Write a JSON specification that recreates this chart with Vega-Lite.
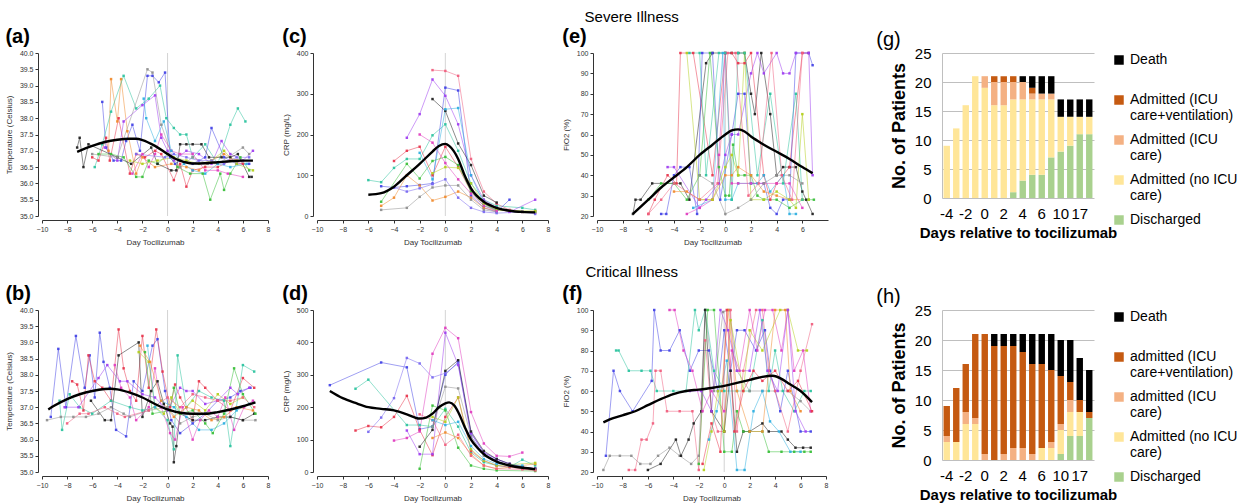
{
"$schema": "https://vega.github.io/schema/vega-lite/v6.json",
"padding": {"left": 5, "top": 10, "right": 2, "bottom": 2},
"config": {
  "font": "Liberation Sans",
  "view": {"stroke": null},
  "axis": {"grid": false, "labelFontSize": 7, "titleFontSize": 8, "titleFontWeight": "normal", "labelColor": "#333", "titleColor": "#333", "domainColor": "#333", "tickColor": "#333", "tickSize": 3, "offset": 4, "labelPadding": 2, "titlePadding": 6, "labelOverlap": false, "labelFlush": false},
  "concat": {"spacing": 12}
},
"datasets": {
"ta": [
{"p":1,"d":-5.2,"v":38.5},{"p":1,"d":-4.9,"v":37.1},{"p":1,"d":-4.3,"v":36.7},{"p":1,"d":-3.7,"v":36.7},{"p":1,"d":-3.3,"v":37.3},{"p":1,"d":-2.8,"v":37.8},{"p":1,"d":-2.2,"v":37.0},{"p":1,"d":-1.6,"v":39.3},{"p":1,"d":-1.2,"v":39.3},{"p":1,"d":-0.7,"v":39.1},{"p":1,"d":-0.2,"v":39.4},{"p":1,"d":0.2,"v":36.8},{"p":1,"d":0.6,"v":36.6},{"p":1,"d":1.0,"v":36.7},{"p":1,"d":2.0,"v":36.6},{"p":1,"d":3.0,"v":36.8},{"p":1,"d":3.5,"v":37.7},{"p":1,"d":4.5,"v":36.8},{"p":1,"d":5.5,"v":36.6},{"p":1,"d":6.5,"v":36.6},
{"p":6,"d":-4.7,"v":37.0},{"p":6,"d":-4.5,"v":39.2},{"p":6,"d":-4.0,"v":37.9},{"p":6,"d":-3.7,"v":39.2},{"p":6,"d":-3.2,"v":37.6},{"p":6,"d":-2.5,"v":36.3},{"p":6,"d":-2.0,"v":36.8},{"p":6,"d":-1.0,"v":36.5},{"p":6,"d":0.3,"v":36.6},{"p":6,"d":1.5,"v":36.5},{"p":6,"d":2.5,"v":36.4},{"p":6,"d":3.5,"v":36.7},{"p":6,"d":4.5,"v":36.9},{"p":6,"d":5.5,"v":36.7},
{"p":3,"d":-5.8,"v":36.5},{"p":3,"d":-5.2,"v":37.2},{"p":3,"d":-4.5,"v":38.2},{"p":3,"d":-3.5,"v":39.3},{"p":3,"d":-2.5,"v":38.3},{"p":3,"d":-1.5,"v":38.6},{"p":3,"d":-0.6,"v":39.0},{"p":3,"d":-0.1,"v":38.0},{"p":3,"d":0.5,"v":37.7},{"p":3,"d":1.0,"v":37.5},{"p":3,"d":1.5,"v":37.5},{"p":3,"d":2.0,"v":36.8},{"p":3,"d":3.0,"v":37.2},{"p":3,"d":4.0,"v":36.6},{"p":3,"d":5.0,"v":37.8},{"p":3,"d":5.6,"v":38.3},{"p":3,"d":6.2,"v":37.9},
{"p":2,"d":-6.0,"v":36.8},{"p":2,"d":-5.5,"v":36.7},{"p":2,"d":-4.9,"v":37.4},{"p":2,"d":-4.6,"v":36.7},{"p":2,"d":-3.9,"v":38.0},{"p":2,"d":-3.0,"v":36.3},{"p":2,"d":-2.5,"v":36.9},{"p":2,"d":-1.8,"v":36.8},{"p":2,"d":-1.0,"v":37.0},{"p":2,"d":-0.5,"v":36.9},{"p":2,"d":0.5,"v":36.1},{"p":2,"d":1.0,"v":36.6},{"p":2,"d":1.5,"v":35.9},{"p":2,"d":2.0,"v":36.4},{"p":2,"d":3.0,"v":36.5},{"p":2,"d":4.0,"v":36.5},{"p":2,"d":5.0,"v":36.7},{"p":2,"d":6.0,"v":36.6},
{"p":4,"d":-5.0,"v":37.1},{"p":4,"d":-4.0,"v":36.7},{"p":4,"d":-3.5,"v":37.9},{"p":4,"d":-2.0,"v":38.4},{"p":4,"d":-1.0,"v":38.7},{"p":4,"d":-0.5,"v":37.4},{"p":4,"d":0.0,"v":37.0},{"p":4,"d":0.5,"v":36.7},{"p":4,"d":1.5,"v":37.0},{"p":4,"d":2.5,"v":36.9},{"p":4,"d":3.5,"v":36.6},{"p":4,"d":4.3,"v":37.3},{"p":4,"d":5.0,"v":36.9},{"p":4,"d":6.0,"v":36.7},{"p":4,"d":6.8,"v":37.0},
{"p":7,"d":-5.5,"v":36.9},{"p":7,"d":-4.5,"v":36.9},{"p":7,"d":-3.5,"v":36.8},{"p":7,"d":-2.5,"v":36.2},{"p":7,"d":-2.0,"v":36.2},{"p":7,"d":-1.5,"v":36.7},{"p":7,"d":-0.8,"v":36.6},{"p":7,"d":0.0,"v":36.9},{"p":7,"d":0.8,"v":36.5},{"p":7,"d":1.8,"v":36.3},{"p":7,"d":2.8,"v":36.3},{"p":7,"d":3.4,"v":35.5},{"p":7,"d":4.2,"v":36.3},{"p":7,"d":4.5,"v":35.8},{"p":7,"d":5.0,"v":36.3},{"p":7,"d":5.8,"v":36.8},{"p":7,"d":6.5,"v":36.4},
{"p":5,"d":-7.2,"v":37.1},{"p":5,"d":-7.0,"v":37.4},{"p":5,"d":-6.7,"v":36.5},{"p":5,"d":-6.3,"v":37.2},{"p":5,"d":-4.0,"v":36.8},{"p":5,"d":-2.9,"v":36.6},{"p":5,"d":-1.3,"v":37.1},{"p":5,"d":-0.8,"v":36.6},{"p":5,"d":0.3,"v":36.4},{"p":5,"d":0.7,"v":36.4},{"p":5,"d":1.0,"v":37.2},{"p":5,"d":1.5,"v":37.2},{"p":5,"d":2.0,"v":37.2},{"p":5,"d":2.7,"v":37.2},{"p":5,"d":3.3,"v":36.8},{"p":5,"d":4.3,"v":36.8},{"p":5,"d":5.0,"v":36.8},{"p":5,"d":5.6,"v":36.9},{"p":5,"d":6.5,"v":36.2},{"p":5,"d":6.7,"v":36.2},
{"p":10,"d":-6.0,"v":36.9},{"p":10,"d":-4.0,"v":36.8},{"p":10,"d":-1.6,"v":39.5},{"p":10,"d":-1.2,"v":39.4},{"p":10,"d":-0.5,"v":37.8},{"p":10,"d":0.4,"v":36.8},{"p":10,"d":1.0,"v":36.5},{"p":10,"d":2.0,"v":36.8},{"p":10,"d":3.2,"v":36.6},{"p":10,"d":4.0,"v":36.6},{"p":10,"d":6.0,"v":37.1},{"p":10,"d":6.5,"v":36.9},
{"p":8,"d":-2.8,"v":36.3},{"p":8,"d":-2.0,"v":36.9},{"p":8,"d":-1.5,"v":36.5},{"p":8,"d":-1.0,"v":36.9},{"p":8,"d":-0.5,"v":37.5},{"p":8,"d":0.3,"v":37.0},{"p":8,"d":1.0,"v":36.9},{"p":8,"d":2.0,"v":36.9},{"p":8,"d":3.0,"v":36.4},{"p":8,"d":4.0,"v":36.4},{"p":8,"d":4.8,"v":36.3},{"p":8,"d":6.0,"v":36.2},
{"p":9,"d":-1.9,"v":38.6},{"p":9,"d":-1.7,"v":38.0},{"p":9,"d":-1.0,"v":37.3},{"p":9,"d":-0.3,"v":37.9},{"p":9,"d":0.3,"v":37.0},{"p":9,"d":1.3,"v":36.6},{"p":9,"d":2.0,"v":36.4},{"p":9,"d":3.0,"v":36.3},{"p":9,"d":4.0,"v":36.6},{"p":9,"d":5.0,"v":36.5},{"p":9,"d":6.3,"v":36.6},
{"p":11,"d":-3.0,"v":36.7},{"p":11,"d":-2.0,"v":36.6},{"p":11,"d":-0.8,"v":36.7},{"p":11,"d":0.5,"v":36.8},{"p":11,"d":1.5,"v":36.7},{"p":11,"d":2.5,"v":36.6},{"p":11,"d":3.5,"v":36.7},{"p":11,"d":4.5,"v":37.0},{"p":11,"d":5.5,"v":36.6},{"p":11,"d":6.8,"v":36.4},
{"p":13,"d":-2.5,"v":36.9},{"p":13,"d":-0.2,"v":36.8},{"p":13,"d":0.5,"v":36.9},{"p":13,"d":1.5,"v":36.8},{"p":13,"d":2.5,"v":36.7},{"p":13,"d":3.5,"v":36.7},{"p":13,"d":4.5,"v":36.6},{"p":13,"d":5.5,"v":36.8},{"p":13,"d":6.5,"v":36.8}
],
"sa": [{"d":-7.2,"v":36.97},{"d":-6,"v":37.15},{"d":-5,"v":37.27},{"d":-4,"v":37.34},{"d":-3,"v":37.37},{"d":-2.5,"v":37.37},{"d":-2,"v":37.33},{"d":-1,"v":37.15},{"d":0,"v":36.9},{"d":0.5,"v":36.78},{"d":1,"v":36.7},{"d":1.5,"v":36.64},{"d":2,"v":36.61},{"d":3,"v":36.62},{"d":4,"v":36.65},{"d":5,"v":36.68},{"d":6,"v":36.7},{"d":6.8,"v":36.7}],
"tc": [
{"p":3,"d":-6,"v":88},{"p":3,"d":-5,"v":83},{"p":3,"d":-4,"v":118},{"p":3,"d":-3,"v":140},{"p":3,"d":-2,"v":140},{"p":3,"d":-1,"v":198},{"p":3,"d":0,"v":225},{"p":3,"d":1,"v":160},{"p":3,"d":2,"v":80},{"p":3,"d":3,"v":40},{"p":3,"d":4,"v":25},{"p":3,"d":6,"v":20},{"p":3,"d":7,"v":15},
{"p":2,"d":-4,"v":135},{"p":2,"d":-3,"v":160},{"p":2,"d":-2,"v":170},{"p":2,"d":-1,"v":100},{"p":2,"d":0,"v":170},{"p":2,"d":1,"v":120},{"p":2,"d":2,"v":60},{"p":2,"d":3,"v":30},{"p":2,"d":4,"v":15},{"p":2,"d":5,"v":12},{"p":2,"d":6,"v":10},{"p":2,"d":7,"v":8},
{"p":4,"d":-3,"v":192},{"p":4,"d":-2,"v":250},{"p":4,"d":-1,"v":335},{"p":4,"d":0,"v":295},{"p":4,"d":1,"v":225},{"p":4,"d":2,"v":100},{"p":4,"d":3,"v":40},{"p":4,"d":4,"v":20},{"p":4,"d":5,"v":10},{"p":4,"d":7,"v":40},
{"p":12,"d":-1,"v":358},{"p":12,"d":0,"v":356},{"p":12,"d":1,"v":344},{"p":12,"d":2,"v":140},{"p":12,"d":3,"v":60},{"p":12,"d":4,"v":30},{"p":12,"d":5,"v":15},{"p":12,"d":6,"v":10},{"p":12,"d":7,"v":12},
{"p":1,"d":-5,"v":73},{"p":1,"d":-4,"v":70},{"p":1,"d":-3,"v":73},{"p":1,"d":-2,"v":76},{"p":1,"d":-1,"v":80},{"p":1,"d":0,"v":315},{"p":1,"d":1,"v":308},{"p":1,"d":2,"v":50},{"p":1,"d":3,"v":20},{"p":1,"d":4,"v":10},{"p":1,"d":5,"v":40},
{"p":6,"d":-5,"v":25},{"p":6,"d":-4,"v":45},{"p":6,"d":-3,"v":100},{"p":6,"d":-2,"v":75},{"p":6,"d":-1,"v":38},{"p":6,"d":0,"v":47},{"p":6,"d":1,"v":60},{"p":6,"d":2,"v":45},{"p":6,"d":3,"v":20},{"p":6,"d":4,"v":12},
{"p":5,"d":-1,"v":287},{"p":5,"d":0,"v":258},{"p":5,"d":1,"v":178},{"p":5,"d":2,"v":125},{"p":5,"d":3,"v":50},{"p":5,"d":4,"v":33},
{"p":10,"d":-5,"v":15},{"p":10,"d":-3,"v":20},{"p":10,"d":-2,"v":47},{"p":10,"d":-1,"v":70},{"p":10,"d":0,"v":75},{"p":10,"d":1,"v":75},{"p":10,"d":2,"v":40},{"p":10,"d":3,"v":15},{"p":10,"d":4,"v":10},
{"p":7,"d":-5,"v":35},{"p":7,"d":-3,"v":128},{"p":7,"d":-2,"v":92},{"p":7,"d":-1,"v":135},{"p":7,"d":0,"v":145},{"p":7,"d":1,"v":125},{"p":7,"d":2,"v":60},{"p":7,"d":3,"v":25},{"p":7,"d":4,"v":15},{"p":7,"d":6,"v":10},{"p":7,"d":7,"v":10},
{"p":13,"d":-4,"v":70},{"p":13,"d":-3,"v":60},{"p":13,"d":-2,"v":68},{"p":13,"d":-1,"v":78},{"p":13,"d":0,"v":90},{"p":13,"d":1,"v":45},{"p":13,"d":2,"v":20},{"p":13,"d":3,"v":10},{"p":13,"d":4,"v":7},{"p":13,"d":6,"v":10},{"p":13,"d":7,"v":5},
{"p":9,"d":-2,"v":155},{"p":9,"d":-1,"v":90},{"p":9,"d":0,"v":262},{"p":9,"d":1,"v":265},{"p":9,"d":2,"v":100},{"p":9,"d":3,"v":30},{"p":9,"d":4,"v":12},
{"p":11,"d":-1,"v":105},{"p":11,"d":0,"v":120},{"p":11,"d":1,"v":118},{"p":11,"d":2,"v":80},{"p":11,"d":3,"v":30},{"p":11,"d":4,"v":15},{"p":11,"d":7,"v":12},
{"p":8,"d":-2,"v":200},{"p":8,"d":-1,"v":180},{"p":8,"d":0,"v":130},{"p":8,"d":1,"v":90},{"p":8,"d":2,"v":55},{"p":8,"d":3,"v":25},{"p":8,"d":4,"v":12}
],
"sc": [{"d":-6,"v":52},{"d":-5,"v":56},{"d":-4,"v":72},{"d":-3,"v":100},{"d":-2,"v":128},{"d":-1,"v":158},{"d":-0.5,"v":172},{"d":0,"v":177},{"d":0.3,"v":172},{"d":1,"v":140},{"d":1.5,"v":100},{"d":2,"v":68},{"d":3,"v":35},{"d":4,"v":20},{"d":5,"v":13},{"d":6,"v":10},{"d":7,"v":9}],
"te": [
{"p":5,"d":-7.2,"v":21},{"p":5,"d":-7,"v":28},{"p":5,"d":-6.6,"v":28},{"p":5,"d":-5.7,"v":36},{"p":5,"d":-3.5,"v":36},{"p":5,"d":-2.8,"v":28},{"p":5,"d":-1.5,"v":95},{"p":5,"d":-1,"v":100},{"p":5,"d":0,"v":100},{"p":5,"d":0.5,"v":100},{"p":5,"d":1,"v":100},{"p":5,"d":1.5,"v":100},{"p":5,"d":2,"v":80},{"p":5,"d":2.3,"v":70},{"p":5,"d":2.8,"v":100},{"p":5,"d":3.5,"v":70},{"p":5,"d":4,"v":40},{"p":5,"d":4.5,"v":44},{"p":5,"d":5,"v":44},{"p":5,"d":5.5,"v":44},{"p":5,"d":6,"v":32},{"p":5,"d":6.3,"v":28},{"p":5,"d":6.8,"v":21},
{"p":2,"d":-6,"v":21},{"p":2,"d":-5.5,"v":28},{"p":2,"d":-4.5,"v":40},{"p":2,"d":-3.8,"v":36},{"p":2,"d":-3.5,"v":100},{"p":2,"d":-2.5,"v":100},{"p":2,"d":-1,"v":40},{"p":2,"d":0,"v":100},{"p":2,"d":0.5,"v":100},{"p":2,"d":1,"v":95},{"p":2,"d":1.5,"v":95},{"p":2,"d":2,"v":100},{"p":2,"d":3,"v":40},{"p":2,"d":3.5,"v":28},{"p":2,"d":4,"v":36},{"p":2,"d":5,"v":44},{"p":2,"d":6,"v":100},{"p":2,"d":6.5,"v":100},
{"p":1,"d":-5,"v":21},{"p":1,"d":-4.6,"v":21},{"p":1,"d":-4,"v":40},{"p":1,"d":-3.5,"v":44},{"p":1,"d":-2.8,"v":44},{"p":1,"d":-2.2,"v":21},{"p":1,"d":-1.8,"v":100},{"p":1,"d":-1,"v":100},{"p":1,"d":-0.4,"v":28},{"p":1,"d":0.5,"v":60},{"p":1,"d":1,"v":80},{"p":1,"d":1.5,"v":80},{"p":1,"d":2,"v":36},{"p":1,"d":3,"v":36},{"p":1,"d":3.5,"v":24},{"p":1,"d":4,"v":21},{"p":1,"d":4.5,"v":28},{"p":1,"d":5,"v":28},{"p":1,"d":5.5,"v":100},{"p":1,"d":6.5,"v":100},{"p":1,"d":6.8,"v":94},
{"p":7,"d":-6,"v":28},{"p":7,"d":-5,"v":36},{"p":7,"d":-4,"v":36},{"p":7,"d":-3,"v":28},{"p":7,"d":-2,"v":40},{"p":7,"d":-1.2,"v":100},{"p":7,"d":-0.5,"v":44},{"p":7,"d":0,"v":30},{"p":7,"d":0.3,"v":30},{"p":7,"d":0.6,"v":55},{"p":7,"d":1,"v":40},{"p":7,"d":1.5,"v":40},{"p":7,"d":2,"v":40},{"p":7,"d":2.5,"v":30},{"p":7,"d":3,"v":28},{"p":7,"d":4,"v":28},{"p":7,"d":5,"v":24},{"p":7,"d":6,"v":28},{"p":7,"d":6.5,"v":28},{"p":7,"d":6.9,"v":28},
{"p":4,"d":-4.5,"v":44},{"p":4,"d":-4,"v":44},{"p":4,"d":-2,"v":24},{"p":4,"d":-1.5,"v":28},{"p":4,"d":-0.5,"v":36},{"p":4,"d":0,"v":50},{"p":4,"d":0.5,"v":60},{"p":4,"d":1,"v":60},{"p":4,"d":2,"v":90},{"p":4,"d":2.5,"v":100},{"p":4,"d":3,"v":90},{"p":4,"d":4,"v":100},{"p":4,"d":4.5,"v":90},{"p":4,"d":5,"v":90},{"p":4,"d":5.5,"v":100},{"p":4,"d":6.5,"v":100},{"p":4,"d":6.8,"v":40},
{"p":9,"d":-2.5,"v":24},{"p":9,"d":-1,"v":28},{"p":9,"d":-0.2,"v":100},{"p":9,"d":0,"v":28},{"p":9,"d":0.5,"v":28},{"p":9,"d":1,"v":36},{"p":9,"d":2,"v":36},{"p":9,"d":2.5,"v":36},{"p":9,"d":3,"v":40},{"p":9,"d":3.5,"v":32},{"p":9,"d":4.5,"v":40},{"p":9,"d":5,"v":21},{"p":9,"d":5.5,"v":21},
{"p":8,"d":-3,"v":21},{"p":8,"d":-2,"v":24},{"p":8,"d":-1,"v":28},{"p":8,"d":-0.5,"v":50},{"p":8,"d":0,"v":100},{"p":8,"d":0.5,"v":36},{"p":8,"d":1,"v":36},{"p":8,"d":2,"v":36},{"p":8,"d":3,"v":36},{"p":8,"d":4,"v":36},{"p":8,"d":5,"v":36},{"p":8,"d":6,"v":24},
{"p":6,"d":-4,"v":32},{"p":6,"d":-3,"v":32},{"p":6,"d":-2,"v":28},{"p":6,"d":-1,"v":28},{"p":6,"d":0,"v":40},{"p":6,"d":0.5,"v":40},{"p":6,"d":1,"v":44},{"p":6,"d":2,"v":40},{"p":6,"d":3,"v":32},{"p":6,"d":4,"v":30},{"p":6,"d":5,"v":28},{"p":6,"d":6,"v":28},
{"p":11,"d":-3,"v":100},{"p":11,"d":-2,"v":28},{"p":11,"d":-1,"v":28},{"p":11,"d":0,"v":44},{"p":11,"d":0.5,"v":50},{"p":11,"d":1,"v":40},{"p":11,"d":1.5,"v":100},{"p":11,"d":2,"v":28},{"p":11,"d":3,"v":28},{"p":11,"d":4,"v":32},{"p":11,"d":5,"v":28},{"p":11,"d":5.5,"v":24},{"p":11,"d":6,"v":70},{"p":11,"d":6.5,"v":28},
{"p":3,"d":-2.8,"v":100},{"p":3,"d":-2,"v":100},{"p":3,"d":-1.5,"v":40},{"p":3,"d":-0.5,"v":100},{"p":3,"d":0,"v":100},{"p":3,"d":0.5,"v":28},{"p":3,"d":1,"v":100},{"p":3,"d":1.5,"v":100},{"p":3,"d":2.5,"v":40},{"p":3,"d":3.5,"v":80},{"p":3,"d":4.5,"v":36},{"p":3,"d":5.5,"v":80},{"p":3,"d":6,"v":28},
{"p":12,"d":-6,"v":21},{"p":12,"d":-5,"v":28},{"p":12,"d":-4,"v":36},{"p":12,"d":-2,"v":28},{"p":12,"d":-0.6,"v":36},{"p":12,"d":0.2,"v":100},{"p":12,"d":0.8,"v":100},{"p":12,"d":1.8,"v":30},{"p":12,"d":2.6,"v":36},{"p":12,"d":3.6,"v":100},{"p":12,"d":4.4,"v":40},{"p":12,"d":5.2,"v":28},{"p":12,"d":6,"v":100},
{"p":10,"d":-2,"v":40},{"p":10,"d":-1,"v":36},{"p":10,"d":0,"v":21},{"p":10,"d":1,"v":24},{"p":10,"d":2,"v":28},{"p":10,"d":3,"v":36},{"p":10,"d":4,"v":40},{"p":10,"d":5,"v":40},{"p":10,"d":6,"v":36}
],
"se": [{"d":-7.2,"v":21},{"d":-6,"v":28},{"d":-5,"v":34},{"d":-4,"v":39},{"d":-3,"v":44},{"d":-2,"v":50},{"d":-1,"v":55},{"d":0,"v":60},{"d":0.5,"v":62},{"d":1,"v":62.5},{"d":1.5,"v":61.5},{"d":2,"v":59},{"d":3,"v":55},{"d":4,"v":51.5},{"d":5,"v":48},{"d":6,"v":44},{"d":6.8,"v":41}],
"tb": [
{"p":1,"d":-9.3,"v":36.7},{"p":1,"d":-8.7,"v":38.8},{"p":1,"d":-8.1,"v":37.0},{"p":1,"d":-7.3,"v":39.2},{"p":1,"d":-6.6,"v":37.6},{"p":1,"d":-6.2,"v":38.6},{"p":1,"d":-5.8,"v":37.3},{"p":1,"d":-5.4,"v":39.3},{"p":1,"d":-5.1,"v":38.4},{"p":1,"d":-4.6,"v":37.6},{"p":1,"d":-4.1,"v":36.3},{"p":1,"d":-3.3,"v":36.1},{"p":1,"d":-2.7,"v":37.8},{"p":1,"d":-2,"v":37.5},{"p":1,"d":-1.2,"v":38.9},{"p":1,"d":-0.8,"v":39.1},{"p":1,"d":-0.2,"v":37.5},{"p":1,"d":0.3,"v":36.6},{"p":1,"d":1,"v":36.2},{"p":1,"d":2,"v":36.5},{"p":1,"d":3,"v":36.8},{"p":1,"d":4,"v":37.2},{"p":1,"d":5,"v":37.3},{"p":1,"d":5.8,"v":37.5},{"p":1,"d":6.6,"v":37.6},
{"p":2,"d":-7.6,"v":37.8},{"p":2,"d":-7.2,"v":37.7},{"p":2,"d":-6.7,"v":36.9},{"p":2,"d":-6.3,"v":38.6},{"p":2,"d":-5.8,"v":37.8},{"p":2,"d":-5.2,"v":37.6},{"p":2,"d":-4.5,"v":37.2},{"p":2,"d":-3.9,"v":39.4},{"p":2,"d":-3.5,"v":38.2},{"p":2,"d":-3,"v":37.5},{"p":2,"d":-2.5,"v":37.2},{"p":2,"d":-2,"v":39.2},{"p":2,"d":-1.5,"v":37.6},{"p":2,"d":-0.9,"v":39.4},{"p":2,"d":-0.4,"v":38.1},{"p":2,"d":0.2,"v":37.0},{"p":2,"d":0.6,"v":37.7},{"p":2,"d":1,"v":37.3},{"p":2,"d":2,"v":36.6},{"p":2,"d":2.5,"v":37.8},{"p":2,"d":3,"v":37.6},{"p":2,"d":4,"v":37.2},{"p":2,"d":5,"v":36.9},{"p":2,"d":6,"v":37.9},{"p":2,"d":6.9,"v":37.6},
{"p":10,"d":-9.6,"v":36.6},{"p":10,"d":-8.5,"v":36.7},{"p":10,"d":-7.5,"v":36.7},{"p":10,"d":-6.5,"v":36.7},{"p":10,"d":-5.5,"v":36.8},{"p":10,"d":-4.5,"v":37.0},{"p":10,"d":-3.5,"v":36.8},{"p":10,"d":-3,"v":36.7},{"p":10,"d":-1.5,"v":36.9},{"p":10,"d":0,"v":37.0},{"p":10,"d":1,"v":36.5},{"p":10,"d":2,"v":36.7},{"p":10,"d":3,"v":36.8},{"p":10,"d":4,"v":36.6},{"p":10,"d":5,"v":36.7},{"p":10,"d":6,"v":36.6},{"p":10,"d":7,"v":36.6},
{"p":5,"d":-6.1,"v":37.2},{"p":5,"d":-5,"v":36.6},{"p":5,"d":-4.5,"v":36.6},{"p":5,"d":-3.9,"v":38.6},{"p":5,"d":-2.3,"v":39.0},{"p":5,"d":-2,"v":36.7},{"p":5,"d":-1.3,"v":37.5},{"p":5,"d":-0.8,"v":37.8},{"p":5,"d":-0.3,"v":37.1},{"p":5,"d":0.2,"v":36.5},{"p":5,"d":0.4,"v":36.4},{"p":5,"d":0.5,"v":35.3},{"p":5,"d":0.7,"v":35.8},{"p":5,"d":1,"v":36.8},{"p":5,"d":2,"v":36.6},{"p":5,"d":3,"v":36.6},{"p":5,"d":4,"v":36.7},{"p":5,"d":5,"v":36.7},{"p":5,"d":6,"v":36.6},{"p":5,"d":6.9,"v":36.8},
{"p":3,"d":-8.6,"v":37.2},{"p":3,"d":-8.4,"v":36.3},{"p":3,"d":-7.8,"v":37.4},{"p":3,"d":-7,"v":37.0},{"p":3,"d":-6,"v":36.8},{"p":3,"d":-4.5,"v":37.2},{"p":3,"d":-3,"v":37.0},{"p":3,"d":-2,"v":36.9},{"p":3,"d":-1,"v":37.0},{"p":3,"d":0,"v":36.6},{"p":3,"d":0.5,"v":35.7},{"p":3,"d":0.8,"v":38.6},{"p":3,"d":1.5,"v":37.0},{"p":3,"d":2.5,"v":37.5},{"p":3,"d":3.5,"v":37.3},{"p":3,"d":4.5,"v":37.2},{"p":3,"d":5,"v":35.8},{"p":3,"d":6,"v":38.3},{"p":3,"d":6.9,"v":38.1},
{"p":8,"d":-4.2,"v":38.3},{"p":8,"d":-3.7,"v":37.6},{"p":8,"d":-3,"v":37.3},{"p":8,"d":-2.5,"v":36.6},{"p":8,"d":-1.5,"v":37.0},{"p":8,"d":-1,"v":38.2},{"p":8,"d":-0.5,"v":37.0},{"p":8,"d":0.2,"v":36.2},{"p":8,"d":0.6,"v":36.0},{"p":8,"d":1.2,"v":37.0},{"p":8,"d":2,"v":36.0},{"p":8,"d":2.6,"v":36.6},{"p":8,"d":3.3,"v":36.9},{"p":8,"d":4,"v":36.7},{"p":8,"d":4.6,"v":37.3},{"p":8,"d":5.3,"v":36.3},{"p":8,"d":6.1,"v":37.0},{"p":8,"d":6.8,"v":37.2},
{"p":11,"d":-2.3,"v":38.7},{"p":11,"d":-1.5,"v":38.4},{"p":11,"d":-1,"v":37.0},{"p":11,"d":-0.3,"v":36.8},{"p":11,"d":0.3,"v":37.3},{"p":11,"d":1,"v":36.8},{"p":11,"d":2,"v":37.2},{"p":11,"d":3,"v":36.9},{"p":11,"d":4,"v":37.4},{"p":11,"d":5,"v":37.1},{"p":11,"d":6,"v":37.3},
{"p":4,"d":-8.2,"v":37.0},{"p":4,"d":-7.1,"v":37.0},{"p":4,"d":-5.5,"v":37.9},{"p":4,"d":-4.8,"v":38.3},{"p":4,"d":-3.8,"v":37.8},{"p":4,"d":-3.2,"v":37.8},{"p":4,"d":-2,"v":37.4},{"p":4,"d":-1,"v":37.3},{"p":4,"d":0,"v":36.9},{"p":4,"d":1,"v":37.6},{"p":4,"d":1.5,"v":37.5},{"p":4,"d":2,"v":37.5},{"p":4,"d":3,"v":37.1},{"p":4,"d":4,"v":37.2},{"p":4,"d":5,"v":37.6},{"p":4,"d":5.6,"v":37.4},{"p":4,"d":6.5,"v":37.6},
{"p":9,"d":-1.6,"v":38.9},{"p":9,"d":-1,"v":37.0},{"p":9,"d":-0.5,"v":37.2},{"p":9,"d":0.5,"v":37.0},{"p":9,"d":1.5,"v":36.7},{"p":9,"d":2.5,"v":36.3},{"p":9,"d":3.5,"v":36.3},{"p":9,"d":4.5,"v":36.5},{"p":9,"d":5.5,"v":36.9},{"p":9,"d":6.5,"v":37.1},
{"p":7,"d":-1.8,"v":38.7},{"p":7,"d":-1.2,"v":36.8},{"p":7,"d":0.2,"v":36.9},{"p":7,"d":0.5,"v":37.6},{"p":7,"d":1,"v":36.8},{"p":7,"d":2,"v":36.9},{"p":7,"d":3,"v":36.5},{"p":7,"d":3.6,"v":36.2},{"p":7,"d":4.5,"v":36.8},{"p":7,"d":5.3,"v":38.2},{"p":7,"d":6,"v":37.4},{"p":7,"d":7,"v":36.8},
{"p":6,"d":-2.2,"v":38.9},{"p":6,"d":-1.4,"v":38.4},{"p":6,"d":-0.5,"v":37.2},{"p":6,"d":0.5,"v":36.7},{"p":6,"d":1.5,"v":37.0},{"p":6,"d":2.5,"v":36.9},{"p":6,"d":3.5,"v":36.6},{"p":6,"d":4.5,"v":36.7},{"p":6,"d":5.5,"v":37.0},{"p":6,"d":6.8,"v":36.9},
{"p":12,"d":-8,"v":36.5},{"p":12,"d":-7,"v":36.8},{"p":12,"d":-6.3,"v":36.8},{"p":12,"d":-5,"v":37.0},{"p":12,"d":-4,"v":36.8},{"p":12,"d":-3.4,"v":36.7},{"p":12,"d":-1.5,"v":36.9},{"p":12,"d":0,"v":37.3},{"p":12,"d":1,"v":37.0},{"p":12,"d":2,"v":37.4},{"p":12,"d":3,"v":37.3},{"p":12,"d":4,"v":37.2},{"p":12,"d":5,"v":37.2},{"p":12,"d":6,"v":37.3},{"p":12,"d":6.9,"v":37.0}
],
"sb": [{"d":-9.5,"v":36.93},{"d":-9,"v":37.05},{"d":-8,"v":37.25},{"d":-7,"v":37.4},{"d":-6,"v":37.5},{"d":-5,"v":37.56},{"d":-4.5,"v":37.57},{"d":-4,"v":37.55},{"d":-3,"v":37.45},{"d":-2,"v":37.3},{"d":-1,"v":37.1},{"d":0,"v":36.93},{"d":1,"v":36.83},{"d":2,"v":36.8},{"d":3,"v":36.8},{"d":4,"v":36.85},{"d":5,"v":36.93},{"d":6,"v":37.03},{"d":7,"v":37.15}],
"td": [
{"p":1,"d":-9,"v":268},{"p":1,"d":-5,"v":338},{"p":1,"d":-3,"v":323},{"p":1,"d":-2,"v":132},{"p":1,"d":-1,"v":140},{"p":1,"d":0,"v":300},{"p":1,"d":1,"v":340},{"p":1,"d":2,"v":120},{"p":1,"d":3,"v":60},{"p":1,"d":4,"v":40},{"p":1,"d":5,"v":25},{"p":1,"d":6,"v":15},{"p":1,"d":7,"v":10},
{"p":3,"d":-7,"v":257},{"p":3,"d":-6,"v":285},{"p":3,"d":-3,"v":145},{"p":3,"d":-2,"v":145},{"p":3,"d":-1,"v":140},{"p":3,"d":0,"v":195},{"p":3,"d":1,"v":140},{"p":3,"d":2,"v":60},{"p":3,"d":3,"v":30},{"p":3,"d":4,"v":20},{"p":3,"d":5,"v":15},{"p":3,"d":6,"v":38},{"p":3,"d":7,"v":20},
{"p":2,"d":-7,"v":128},{"p":2,"d":-6,"v":142},{"p":2,"d":-5,"v":138},{"p":2,"d":-4,"v":170},{"p":2,"d":-3,"v":235},{"p":2,"d":-2,"v":130},{"p":2,"d":-1,"v":52},{"p":2,"d":0,"v":170},{"p":2,"d":1,"v":230},{"p":2,"d":2,"v":65},{"p":2,"d":3,"v":35},{"p":2,"d":4,"v":20},{"p":2,"d":5,"v":15},{"p":2,"d":6,"v":10},{"p":2,"d":7,"v":5},
{"p":13,"d":-6,"v":124},{"p":13,"d":-5,"v":168},{"p":13,"d":-4,"v":228},{"p":13,"d":-3,"v":352},{"p":13,"d":-2,"v":335},{"p":13,"d":-1,"v":292},{"p":13,"d":0,"v":305},{"p":13,"d":1,"v":335},{"p":13,"d":2,"v":110},{"p":13,"d":3,"v":55},{"p":13,"d":4,"v":35},{"p":13,"d":5,"v":20},{"p":13,"d":6,"v":15},{"p":13,"d":7,"v":10},
{"p":8,"d":-4,"v":97},{"p":8,"d":-3,"v":105},{"p":8,"d":-2,"v":125},{"p":8,"d":-1,"v":365},{"p":8,"d":0,"v":445},{"p":8,"d":1,"v":413},{"p":8,"d":2,"v":185},{"p":8,"d":3,"v":88},{"p":8,"d":4,"v":50},{"p":8,"d":5,"v":48},{"p":8,"d":6,"v":60},
{"p":4,"d":-3,"v":128},{"p":4,"d":-2,"v":55},{"p":4,"d":-1,"v":55},{"p":4,"d":0,"v":430},{"p":4,"d":1,"v":330},{"p":4,"d":2,"v":120},{"p":4,"d":3,"v":60},{"p":4,"d":4,"v":40},{"p":4,"d":5,"v":25},{"p":4,"d":6,"v":15},{"p":4,"d":7,"v":10},
{"p":5,"d":-2,"v":78},{"p":5,"d":-1,"v":130},{"p":5,"d":0,"v":312},{"p":5,"d":1,"v":345},{"p":5,"d":2,"v":125},{"p":5,"d":3,"v":65},{"p":5,"d":4,"v":40},{"p":5,"d":5,"v":25},{"p":5,"d":6,"v":15},{"p":5,"d":7,"v":10},
{"p":10,"d":-1,"v":140},{"p":10,"d":0,"v":263},{"p":10,"d":1,"v":258},{"p":10,"d":2,"v":110},{"p":10,"d":3,"v":50},{"p":10,"d":4,"v":30},{"p":10,"d":5,"v":20},{"p":10,"d":6,"v":12},{"p":10,"d":7,"v":8},
{"p":7,"d":-2,"v":10},{"p":7,"d":-1,"v":205},{"p":7,"d":0,"v":190},{"p":7,"d":1,"v":75},{"p":7,"d":2,"v":20},{"p":7,"d":3,"v":10},{"p":7,"d":4,"v":5},{"p":7,"d":7,"v":3},
{"p":6,"d":-1,"v":105},{"p":6,"d":0,"v":122},{"p":6,"d":1,"v":105},{"p":6,"d":2,"v":55},{"p":6,"d":3,"v":20},{"p":6,"d":4,"v":10},{"p":6,"d":7,"v":25},
{"p":12,"d":-2,"v":178},{"p":12,"d":-1,"v":160},{"p":12,"d":0,"v":84},{"p":12,"d":1,"v":115},{"p":12,"d":2,"v":50},{"p":12,"d":3,"v":20},{"p":12,"d":4,"v":10},{"p":12,"d":6,"v":8},{"p":12,"d":7,"v":5},
{"p":11,"d":-1,"v":170},{"p":11,"d":0,"v":155},{"p":11,"d":1,"v":230},{"p":11,"d":2,"v":70},{"p":11,"d":3,"v":35},{"p":11,"d":4,"v":20},{"p":11,"d":7,"v":28},
{"p":9,"d":-1,"v":160},{"p":9,"d":0,"v":145},{"p":9,"d":1,"v":155},{"p":9,"d":2,"v":80},{"p":9,"d":3,"v":40},{"p":9,"d":4,"v":25},{"p":9,"d":6,"v":20}
],
"sd": [{"d":-9,"v":250},{"d":-8,"v":228},{"d":-7,"v":213},{"d":-6,"v":200},{"d":-5,"v":195},{"d":-4,"v":190},{"d":-3,"v":178},{"d":-2,"v":165},{"d":-1.5,"v":168},{"d":-1,"v":180},{"d":-0.5,"v":200},{"d":0,"v":212},{"d":0.3,"v":215},{"d":0.7,"v":205},{"d":1,"v":185},{"d":1.5,"v":140},{"d":2,"v":100},{"d":2.5,"v":75},{"d":3,"v":55},{"d":4,"v":32},{"d":5,"v":20},{"d":6,"v":13},{"d":7,"v":9}],
"tf": [
{"p":1,"d":-9.3,"v":28},{"p":1,"d":-8.7,"v":70},{"p":1,"d":-8.2,"v":60},{"p":1,"d":-7.2,"v":50},{"p":1,"d":-5.7,"v":65},{"p":1,"d":-5.5,"v":100},{"p":1,"d":-5,"v":80},{"p":1,"d":-4.3,"v":80},{"p":1,"d":-3.5,"v":90},{"p":1,"d":-2.7,"v":70},{"p":1,"d":-2,"v":80},{"p":1,"d":-1.2,"v":80},{"p":1,"d":-0.5,"v":60},{"p":1,"d":0,"v":90},{"p":1,"d":0.5,"v":70},{"p":1,"d":1,"v":90},{"p":1,"d":1.6,"v":90},{"p":1,"d":2.5,"v":80},{"p":1,"d":3.2,"v":90},{"p":1,"d":3.6,"v":70},{"p":1,"d":4.4,"v":50},{"p":1,"d":5,"v":70},{"p":1,"d":6,"v":40},{"p":1,"d":6.8,"v":40},
{"p":3,"d":-8.5,"v":80},{"p":3,"d":-8.3,"v":80},{"p":3,"d":-7.5,"v":70},{"p":3,"d":-6.5,"v":70},{"p":3,"d":-5.8,"v":70},{"p":3,"d":-5.3,"v":60},{"p":3,"d":-4,"v":60},{"p":3,"d":-3,"v":60},{"p":3,"d":-2.3,"v":100},{"p":3,"d":-2,"v":90},{"p":3,"d":-1.5,"v":100},{"p":3,"d":-0.8,"v":70},{"p":3,"d":0,"v":60},{"p":3,"d":1,"v":60},{"p":3,"d":2,"v":60},{"p":3,"d":3,"v":95},{"p":3,"d":3.5,"v":60},{"p":3,"d":4,"v":80},{"p":3,"d":4.6,"v":60},{"p":3,"d":5.5,"v":50},{"p":3,"d":6.3,"v":60},{"p":3,"d":6.8,"v":60},
{"p":10,"d":-9.5,"v":21},{"p":10,"d":-9,"v":28},{"p":10,"d":-8.2,"v":28},{"p":10,"d":-7.3,"v":28},{"p":10,"d":-6.6,"v":24},{"p":10,"d":-5.8,"v":24},{"p":10,"d":-5.2,"v":28},{"p":10,"d":-4.3,"v":32},{"p":10,"d":-3.5,"v":28},{"p":10,"d":-2.6,"v":24},{"p":10,"d":-2,"v":28},{"p":10,"d":-1.5,"v":100},{"p":10,"d":-0.8,"v":60},{"p":10,"d":-0.1,"v":99},{"p":10,"d":0.4,"v":100},{"p":10,"d":1,"v":70},{"p":10,"d":2,"v":60},{"p":10,"d":3,"v":60},{"p":10,"d":4,"v":60},{"p":10,"d":5,"v":60},{"p":10,"d":6,"v":55},{"p":10,"d":6.8,"v":50},
{"p":12,"d":-7.5,"v":21},{"p":12,"d":-7,"v":21},{"p":12,"d":-6.5,"v":36},{"p":12,"d":-6.1,"v":36},{"p":12,"d":-5.6,"v":44},{"p":12,"d":-5.4,"v":70},{"p":12,"d":-5,"v":70},{"p":12,"d":-4.5,"v":50},{"p":12,"d":-3.5,"v":50},{"p":12,"d":-2.5,"v":50},{"p":12,"d":-2,"v":21},{"p":12,"d":-1.5,"v":85},{"p":12,"d":-1,"v":50},{"p":12,"d":-0.5,"v":40},{"p":12,"d":0,"v":40},{"p":12,"d":0.5,"v":100},{"p":12,"d":1,"v":40},{"p":12,"d":1.5,"v":70},{"p":12,"d":2.5,"v":100},{"p":12,"d":3,"v":100},{"p":12,"d":3.5,"v":70},{"p":12,"d":4,"v":60},{"p":12,"d":5,"v":40},{"p":12,"d":6,"v":70},{"p":12,"d":6.9,"v":93},
{"p":5,"d":-6,"v":21},{"p":5,"d":-5,"v":24},{"p":5,"d":-3.8,"v":36},{"p":5,"d":-3.4,"v":28},{"p":5,"d":-2.8,"v":36},{"p":5,"d":-2.4,"v":44},{"p":5,"d":-1.8,"v":50},{"p":5,"d":-1.5,"v":100},{"p":5,"d":-1,"v":50},{"p":5,"d":0,"v":40},{"p":5,"d":0.5,"v":70},{"p":5,"d":1,"v":30},{"p":5,"d":1.5,"v":40},{"p":5,"d":2,"v":40},{"p":5,"d":3,"v":44},{"p":5,"d":3.5,"v":40},{"p":5,"d":4.5,"v":40},{"p":5,"d":5,"v":36},{"p":5,"d":5.6,"v":32},{"p":5,"d":6.2,"v":32},{"p":5,"d":6.8,"v":32},
{"p":8,"d":-4.3,"v":100},{"p":8,"d":-3.9,"v":100},{"p":8,"d":-3.2,"v":80},{"p":8,"d":-2.5,"v":70},{"p":8,"d":-1.7,"v":50},{"p":8,"d":-1,"v":60},{"p":8,"d":0,"v":50},{"p":8,"d":0.6,"v":80},{"p":8,"d":1.2,"v":70},{"p":8,"d":2,"v":100},{"p":8,"d":2.6,"v":80},{"p":8,"d":3.2,"v":100},{"p":8,"d":3.8,"v":100},{"p":8,"d":4.5,"v":80},{"p":8,"d":5,"v":100},{"p":8,"d":5.5,"v":70},{"p":8,"d":6.2,"v":80},{"p":8,"d":6.8,"v":50},
{"p":7,"d":-2,"v":24},{"p":7,"d":-1.3,"v":100},{"p":7,"d":-0.8,"v":100},{"p":7,"d":0,"v":30},{"p":7,"d":0.6,"v":30},{"p":7,"d":1,"v":50},{"p":7,"d":1.5,"v":40},{"p":7,"d":2,"v":40},{"p":7,"d":3,"v":40},{"p":7,"d":3.5,"v":30},{"p":7,"d":4.5,"v":30},{"p":7,"d":5.5,"v":30},{"p":7,"d":6.3,"v":30},{"p":7,"d":6.8,"v":30},
{"p":11,"d":-1.6,"v":21},{"p":11,"d":-1,"v":40},{"p":11,"d":-0.5,"v":60},{"p":11,"d":0,"v":40},{"p":11,"d":0.5,"v":95},{"p":11,"d":1.5,"v":60},{"p":11,"d":2,"v":90},{"p":11,"d":3,"v":80},{"p":11,"d":4.4,"v":100},{"p":11,"d":5,"v":100},{"p":11,"d":5.8,"v":80},{"p":11,"d":6.5,"v":80},
{"p":9,"d":-1.2,"v":36},{"p":9,"d":-0.6,"v":50},{"p":9,"d":0.2,"v":75},{"p":9,"d":1,"v":21},{"p":9,"d":1.6,"v":21},{"p":9,"d":2.3,"v":50},{"p":9,"d":3,"v":60},{"p":9,"d":3.6,"v":45},{"p":9,"d":4.3,"v":40},{"p":9,"d":5.2,"v":30},{"p":9,"d":6,"v":30},
{"p":6,"d":-0.2,"v":60},{"p":6,"d":0.3,"v":100},{"p":6,"d":1,"v":60},{"p":6,"d":2,"v":40},{"p":6,"d":3,"v":40},{"p":6,"d":4,"v":100},{"p":6,"d":4.8,"v":100},{"p":6,"d":5.2,"v":60},{"p":6,"d":6,"v":50},
{"p":4,"d":-2.7,"v":60},{"p":4,"d":-1.8,"v":60},{"p":4,"d":-1,"v":50},{"p":4,"d":-0.3,"v":100},{"p":4,"d":0.3,"v":90},{"p":4,"d":1,"v":70},{"p":4,"d":2,"v":70},{"p":4,"d":2.8,"v":100},{"p":4,"d":3.4,"v":70},{"p":4,"d":4.2,"v":60},{"p":4,"d":5,"v":100},{"p":4,"d":5.6,"v":50},{"p":4,"d":6.4,"v":40},
{"p":2,"d":-1.7,"v":24},{"p":2,"d":-1,"v":44},{"p":2,"d":-0.3,"v":30},{"p":2,"d":0.2,"v":100},{"p":2,"d":0.8,"v":40},{"p":2,"d":1.5,"v":60},{"p":2,"d":2.3,"v":70},{"p":2,"d":3,"v":65},{"p":2,"d":4,"v":70},{"p":2,"d":5,"v":60},{"p":2,"d":5.8,"v":65},{"p":2,"d":6.9,"v":50}
],
"sf": [{"d":-9.5,"v":44.5},{"d":-9,"v":46},{"d":-8,"v":48},{"d":-7,"v":50},{"d":-6,"v":53},{"d":-5,"v":56},{"d":-4,"v":58.5},{"d":-3,"v":60},{"d":-2,"v":60.7},{"d":-1,"v":61.5},{"d":0,"v":62.5},{"d":1,"v":64},{"d":2,"v":65.5},{"d":3,"v":67},{"d":3.8,"v":67.5},{"d":4.5,"v":66},{"d":5,"v":64},{"d":6,"v":60},{"d":6.9,"v":54.5}],
"bg": [
{"d":-4,"s":"d_noicu","n":9},{"d":-3,"s":"d_noicu","n":12},{"d":-2,"s":"d_noicu","n":16},{"d":-1,"s":"d_noicu","n":21},
{"d":0,"s":"d_noicu","n":19},{"d":0,"s":"c_icu","n":2},
{"d":1,"s":"d_noicu","n":16},{"d":1,"s":"c_icu","n":4},{"d":1,"s":"b_vent","n":1},
{"d":2,"s":"d_noicu","n":16},{"d":2,"s":"c_icu","n":4},{"d":2,"s":"b_vent","n":1},
{"d":3,"s":"e_disch","n":1},{"d":3,"s":"d_noicu","n":16},{"d":3,"s":"c_icu","n":3},{"d":3,"s":"b_vent","n":1},
{"d":4,"s":"e_disch","n":3},{"d":4,"s":"d_noicu","n":14},{"d":4,"s":"c_icu","n":3},{"d":4,"s":"a_death","n":1},
{"d":5,"s":"e_disch","n":4},{"d":5,"s":"d_noicu","n":13},{"d":5,"s":"c_icu","n":1},{"d":5,"s":"b_vent","n":1},{"d":5,"s":"a_death","n":2},
{"d":6,"s":"e_disch","n":4},{"d":6,"s":"d_noicu","n":13},{"d":6,"s":"c_icu","n":1},{"d":6,"s":"a_death","n":3},
{"d":7,"s":"e_disch","n":7},{"d":7,"s":"d_noicu","n":10},{"d":7,"s":"c_icu","n":1},{"d":7,"s":"a_death","n":3},
{"d":10,"s":"e_disch","n":8},{"d":10,"s":"d_noicu","n":6},{"d":10,"s":"a_death","n":3},
{"d":14,"s":"e_disch","n":9},{"d":14,"s":"d_noicu","n":5},{"d":14,"s":"a_death","n":3},
{"d":17,"s":"e_disch","n":11},{"d":17,"s":"d_noicu","n":3},{"d":17,"s":"a_death","n":3},
{"d":28,"s":"e_disch","n":11},{"d":28,"s":"d_noicu","n":3},{"d":28,"s":"a_death","n":3}
],
"bh": [
{"d":-4,"s":"d_noicu","n":3},{"d":-4,"s":"c_icu","n":1},{"d":-4,"s":"b_vent","n":5},
{"d":-3,"s":"d_noicu","n":3},{"d":-3,"s":"b_vent","n":9},
{"d":-2,"s":"d_noicu","n":6},{"d":-2,"s":"c_icu","n":2},{"d":-2,"s":"b_vent","n":8},
{"d":-1,"s":"d_noicu","n":6},{"d":-1,"s":"c_icu","n":1},{"d":-1,"s":"b_vent","n":14},
{"d":0,"s":"c_icu","n":1},{"d":0,"s":"b_vent","n":20},
{"d":1,"s":"b_vent","n":19},{"d":1,"s":"a_death","n":2},
{"d":2,"s":"c_icu","n":1},{"d":2,"s":"b_vent","n":18},{"d":2,"s":"a_death","n":2},
{"d":3,"s":"c_icu","n":2},{"d":3,"s":"b_vent","n":17},{"d":3,"s":"a_death","n":2},
{"d":4,"s":"c_icu","n":2},{"d":4,"s":"b_vent","n":16},{"d":4,"s":"a_death","n":3},
{"d":5,"s":"c_icu","n":1},{"d":5,"s":"b_vent","n":15},{"d":5,"s":"a_death","n":5},
{"d":6,"s":"d_noicu","n":2},{"d":6,"s":"b_vent","n":14},{"d":6,"s":"a_death","n":5},
{"d":7,"s":"d_noicu","n":2},{"d":7,"s":"c_icu","n":1},{"d":7,"s":"b_vent","n":12},{"d":7,"s":"a_death","n":6},
{"d":10,"s":"e_disch","n":1},{"d":10,"s":"d_noicu","n":4},{"d":10,"s":"c_icu","n":1},{"d":10,"s":"b_vent","n":8},{"d":10,"s":"a_death","n":6},
{"d":14,"s":"e_disch","n":4},{"d":14,"s":"d_noicu","n":4},{"d":14,"s":"c_icu","n":2},{"d":14,"s":"b_vent","n":3},{"d":14,"s":"a_death","n":7},
{"d":17,"s":"e_disch","n":4},{"d":17,"s":"d_noicu","n":4},{"d":17,"s":"b_vent","n":2},{"d":17,"s":"a_death","n":7},
{"d":28,"s":"e_disch","n":7},{"d":28,"s":"b_vent","n":1},{"d":28,"s":"a_death","n":7}
]
},
"resolve": {"scale": {"color": "independent"}, "legend": {"color": "independent"}},
"spacing": 19,
"vconcat": [
{
 "title": {"text": "Severe Illness", "fontSize": 15, "fontWeight": "normal", "anchor": "middle", "offset": 2, "dx": 10},
 "spacing": 48,
 "resolve": {"scale": {"color": "independent"}, "legend": {"color": "independent"}},
 "hconcat": [
 {
 "spacing": 12,
 "resolve": {"scale": {"color": "independent"}, "legend": {"color": "independent"}},
 "hconcat": [
  {
   "width": 226, "height": 163,
   "title": {"text": "(a)", "fontSize": 20, "fontWeight": "bold", "anchor": "start", "frame": "bounds", "offset": 2},
   "layer": [
    {"data": {"values": [{"d": 0}]}, "mark": {"type": "rule", "color": "#c8c8c8", "strokeWidth": 0.8}, "encoding": {"x": {"field": "d", "type": "quantitative", "scale": {"domain": [-10, 8]}}}},
    {"data": {"name": "ta"}, "mark": {"type": "line", "strokeWidth": 0.7, "opacity": 0.75},
     "encoding": {"x": {"field": "d", "type": "quantitative", "scale": {"domain": [-10, 8]}, "axis": {"values": [-10,-8,-6,-4,-2,0,2,4,6,8], "tickCount": 40, "format": "d", "title": "Day Tocilizumab"}},
      "y": {"field": "v", "type": "quantitative", "scale": {"domain": [35, 40]}, "axis": {"values": [35,35.5,36,36.5,37,37.5,38,38.5,39,39.5,40], "tickCount": 40, "format": ".1f", "title": "Temperature (Celsius)"}},
      "color": {"field": "p", "type": "nominal", "scale": {"domain": [1,2,3,4,5,6,7,8,9,10,11,12,13], "range": ["#4646e6","#e8384f","#2ec4a0","#a040f0","#222222","#f08c30","#3cc03c","#e040c0","#30b0e0","#909090","#b4d020","#f06080","#7a6af0"]}, "legend": null}}},
    {"data": {"name": "ta"}, "mark": {"type": "square", "size": 6, "opacity": 0.95},
     "encoding": {"x": {"field": "d", "type": "quantitative"}, "y": {"field": "v", "type": "quantitative"}, "color": {"field": "p", "type": "nominal", "legend": null}}},
    {"data": {"name": "sa"}, "mark": {"type": "line", "color": "black", "strokeWidth": 2.4, "interpolate": "monotone"},
     "encoding": {"x": {"field": "d", "type": "quantitative"}, "y": {"field": "v", "type": "quantitative"}}}
   ]
  },
  {
   "width": 231, "height": 163,
   "title": {"text": "(c)", "fontSize": 20, "fontWeight": "bold", "anchor": "start", "frame": "bounds", "offset": 2},
   "layer": [
    {"data": {"values": [{"d": 0}]}, "mark": {"type": "rule", "color": "#c8c8c8", "strokeWidth": 0.8}, "encoding": {"x": {"field": "d", "type": "quantitative", "scale": {"domain": [-10, 8]}}}},
    {"data": {"name": "tc"}, "mark": {"type": "line", "strokeWidth": 0.7, "opacity": 0.75},
     "encoding": {"x": {"field": "d", "type": "quantitative", "scale": {"domain": [-10, 8]}, "axis": {"values": [-10,-8,-6,-4,-2,0,2,4,6,8], "tickCount": 40, "format": "d", "title": "Day Tocilizumab"}},
      "y": {"field": "v", "type": "quantitative", "scale": {"domain": [0, 400]}, "axis": {"values": [0,100,200,300,400], "tickCount": 40, "format": "d", "title": "CRP (mg/L)"}},
      "color": {"field": "p", "type": "nominal", "scale": {"domain": [1,2,3,4,5,6,7,8,9,10,11,12,13], "range": ["#4646e6","#e8384f","#2ec4a0","#a040f0","#222222","#f08c30","#3cc03c","#e040c0","#30b0e0","#909090","#b4d020","#f06080","#7a6af0"]}, "legend": null}}},
    {"data": {"name": "tc"}, "mark": {"type": "square", "size": 6, "opacity": 0.95},
     "encoding": {"x": {"field": "d", "type": "quantitative"}, "y": {"field": "v", "type": "quantitative"}, "color": {"field": "p", "type": "nominal", "legend": null}}},
    {"data": {"name": "sc"}, "mark": {"type": "line", "color": "black", "strokeWidth": 2.4, "interpolate": "monotone"},
     "encoding": {"x": {"field": "d", "type": "quantitative"}, "y": {"field": "v", "type": "quantitative"}}}
   ]
  },
  {
   "width": 231, "height": 163,
   "title": {"text": "(e)", "fontSize": 20, "fontWeight": "bold", "anchor": "start", "frame": "bounds", "offset": 2},
   "layer": [
    {"data": {"values": [{"d": 0}]}, "mark": {"type": "rule", "color": "#c8c8c8", "strokeWidth": 0.8}, "encoding": {"x": {"field": "d", "type": "quantitative", "scale": {"domain": [-10, 8]}}}},
    {"data": {"name": "te"}, "mark": {"type": "line", "strokeWidth": 0.7, "opacity": 0.75},
     "encoding": {"x": {"field": "d", "type": "quantitative", "scale": {"domain": [-10, 8]}, "axis": {"values": [-10,-8,-6,-4,-2,0,2,4,6], "tickCount": 40, "format": "d", "title": "Day Tocilizumab"}},
      "y": {"field": "v", "type": "quantitative", "scale": {"domain": [20, 100]}, "axis": {"values": [20,30,40,50,60,70,80,90,100], "tickCount": 40, "format": "d", "title": "FiO2 (%)"}},
      "color": {"field": "p", "type": "nominal", "scale": {"domain": [1,2,3,4,5,6,7,8,9,10,11,12,13], "range": ["#4646e6","#e8384f","#2ec4a0","#a040f0","#222222","#f08c30","#3cc03c","#e040c0","#30b0e0","#909090","#b4d020","#f06080","#7a6af0"]}, "legend": null}}},
    {"data": {"name": "te"}, "mark": {"type": "square", "size": 6, "opacity": 0.95},
     "encoding": {"x": {"field": "d", "type": "quantitative"}, "y": {"field": "v", "type": "quantitative"}, "color": {"field": "p", "type": "nominal", "legend": null}}},
    {"data": {"name": "se"}, "mark": {"type": "line", "color": "black", "strokeWidth": 2.4, "interpolate": "monotone"},
     "encoding": {"x": {"field": "d", "type": "quantitative"}, "y": {"field": "v", "type": "quantitative"}}}
   ]
  }
 ]
 },
  {
   "width": 152, "height": 145,
   "data": {"name": "bg"},
   "title": {"text": "(g)", "fontSize": 20, "fontWeight": "normal", "anchor": "start", "frame": "bounds", "offset": -4, "dx": -14},
   "mark": {"type": "bar", "width": {"band": 0.75}},
   "encoding": {
    "x": {"field": "d", "type": "ordinal", "axis": {"values": [-4,-2,0,2,4,6,10,17], "labelAngle": 0, "labelFontSize": 15, "labelColor": "#000", "title": "Days relative to tocilizumab", "titleFontSize": 15, "titleFontWeight": "bold", "titleColor": "#000", "domain": false, "ticks": false, "offset": 0, "labelPadding": 8, "titlePadding": 4}},
    "y": {"field": "n", "type": "quantitative", "stack": "zero", "scale": {"domain": [0, 25]}, "axis": {"values": [0,5,10,15,20,25], "tickCount": 40, "format": "d", "grid": true, "gridColor": "#bfbfbf", "domainColor": "#bfbfbf", "ticks": false, "labelFontSize": 15, "labelColor": "#000", "title": "No. of Patients", "titleFontSize": 18, "titleFontWeight": "bold", "titleColor": "#000", "offset": 0, "labelPadding": 11, "titlePadding": 6}},
    "color": {"field": "s", "type": "nominal", "scale": {"domain": ["a_death","b_vent","c_icu","d_noicu","e_disch"], "range": ["#000000","#c55a11","#f4b183","#ffe699","#a9d18e"]},
     "legend": {"title": null, "symbolType": "square", "symbolSize": 90, "symbolStrokeWidth": 0, "labelFontSize": 14, "labelColor": "#000", "labelLimit": 300, "rowPadding": 10, "offset": 18,
      "labelExpr": "datum.label == 'a_death' ? ['Death', ' '] : datum.label == 'b_vent' ? ['Admitted (ICU', 'care+ventilation)'] : datum.label == 'c_icu' ? ['Admitted (ICU', 'care)'] : datum.label == 'd_noicu' ? ['Admitted (no ICU', 'care)'] : 'Discharged'"}}
   }
  }
 ]
},
{
 "title": {"text": "Critical Illness", "fontSize": 15, "fontWeight": "normal", "anchor": "middle", "offset": 4, "dx": 10},
 "spacing": 48,
 "resolve": {"scale": {"color": "independent"}, "legend": {"color": "independent"}},
 "hconcat": [
 {
 "spacing": 12,
 "resolve": {"scale": {"color": "independent"}, "legend": {"color": "independent"}},
 "hconcat": [
  {
   "width": 226, "height": 162,
   "title": {"text": "(b)", "fontSize": 20, "fontWeight": "bold", "anchor": "start", "frame": "bounds", "offset": 2},
   "layer": [
    {"data": {"values": [{"d": 0}]}, "mark": {"type": "rule", "color": "#c8c8c8", "strokeWidth": 0.8}, "encoding": {"x": {"field": "d", "type": "quantitative", "scale": {"domain": [-10, 8]}}}},
    {"data": {"name": "tb"}, "mark": {"type": "line", "strokeWidth": 0.7, "opacity": 0.75},
     "encoding": {"x": {"field": "d", "type": "quantitative", "scale": {"domain": [-10, 8]}, "axis": {"values": [-10,-8,-6,-4,-2,0,2,4,6,8], "tickCount": 40, "format": "d", "title": "Day Tocilizumab"}},
      "y": {"field": "v", "type": "quantitative", "scale": {"domain": [35, 40]}, "axis": {"values": [35,35.5,36,36.5,37,37.5,38,38.5,39,39.5,40], "tickCount": 40, "format": ".1f", "title": "Temperature (Celsius)"}},
      "color": {"field": "p", "type": "nominal", "scale": {"domain": [1,2,3,4,5,6,7,8,9,10,11,12,13], "range": ["#4646e6","#e8384f","#2ec4a0","#a040f0","#222222","#f08c30","#3cc03c","#e040c0","#30b0e0","#909090","#b4d020","#f06080","#7a6af0"]}, "legend": null}}},
    {"data": {"name": "tb"}, "mark": {"type": "square", "size": 6, "opacity": 0.95},
     "encoding": {"x": {"field": "d", "type": "quantitative"}, "y": {"field": "v", "type": "quantitative"}, "color": {"field": "p", "type": "nominal", "legend": null}}},
    {"data": {"name": "sb"}, "mark": {"type": "line", "color": "black", "strokeWidth": 2.4, "interpolate": "monotone"},
     "encoding": {"x": {"field": "d", "type": "quantitative"}, "y": {"field": "v", "type": "quantitative"}}}
   ]
  },
  {
   "width": 231, "height": 162,
   "title": {"text": "(d)", "fontSize": 20, "fontWeight": "bold", "anchor": "start", "frame": "bounds", "offset": 2},
   "layer": [
    {"data": {"values": [{"d": 0}]}, "mark": {"type": "rule", "color": "#c8c8c8", "strokeWidth": 0.8}, "encoding": {"x": {"field": "d", "type": "quantitative", "scale": {"domain": [-10, 8]}}}},
    {"data": {"name": "td"}, "mark": {"type": "line", "strokeWidth": 0.7, "opacity": 0.75},
     "encoding": {"x": {"field": "d", "type": "quantitative", "scale": {"domain": [-10, 8]}, "axis": {"values": [-10,-8,-6,-4,-2,0,2,4,6,8], "tickCount": 40, "format": "d", "title": "Day Tocilizumab"}},
      "y": {"field": "v", "type": "quantitative", "scale": {"domain": [0, 500]}, "axis": {"values": [0,100,200,300,400,500], "tickCount": 40, "format": "d", "title": "CRP (mg/L)"}},
      "color": {"field": "p", "type": "nominal", "scale": {"domain": [1,2,3,4,5,6,7,8,9,10,11,12,13], "range": ["#4646e6","#e8384f","#2ec4a0","#a040f0","#222222","#f08c30","#3cc03c","#e040c0","#30b0e0","#909090","#b4d020","#f06080","#7a6af0"]}, "legend": null}}},
    {"data": {"name": "td"}, "mark": {"type": "square", "size": 6, "opacity": 0.95},
     "encoding": {"x": {"field": "d", "type": "quantitative"}, "y": {"field": "v", "type": "quantitative"}, "color": {"field": "p", "type": "nominal", "legend": null}}},
    {"data": {"name": "sd"}, "mark": {"type": "line", "color": "black", "strokeWidth": 2.4, "interpolate": "monotone"},
     "encoding": {"x": {"field": "d", "type": "quantitative"}, "y": {"field": "v", "type": "quantitative"}}}
   ]
  },
  {
   "width": 229, "height": 162,
   "title": {"text": "(f)", "fontSize": 20, "fontWeight": "bold", "anchor": "start", "frame": "bounds", "offset": 2},
   "layer": [
    {"data": {"values": [{"d": 0}]}, "mark": {"type": "rule", "color": "#c8c8c8", "strokeWidth": 0.8}, "encoding": {"x": {"field": "d", "type": "quantitative", "scale": {"domain": [-10, 8]}}}},
    {"data": {"name": "tf"}, "mark": {"type": "line", "strokeWidth": 0.7, "opacity": 0.75},
     "encoding": {"x": {"field": "d", "type": "quantitative", "scale": {"domain": [-10, 8]}, "axis": {"values": [-10,-8,-6,-4,-2,0,2,4,6,8], "tickCount": 40, "format": "d", "title": "Day Tocilizumab"}},
      "y": {"field": "v", "type": "quantitative", "scale": {"domain": [20, 100]}, "axis": {"values": [20,30,40,50,60,70,80,90,100], "tickCount": 40, "format": "d", "title": "FiO2 (%)"}},
      "color": {"field": "p", "type": "nominal", "scale": {"domain": [1,2,3,4,5,6,7,8,9,10,11,12,13], "range": ["#4646e6","#e8384f","#2ec4a0","#a040f0","#222222","#f08c30","#3cc03c","#e040c0","#30b0e0","#909090","#b4d020","#f06080","#7a6af0"]}, "legend": null}}},
    {"data": {"name": "tf"}, "mark": {"type": "square", "size": 6, "opacity": 0.95},
     "encoding": {"x": {"field": "d", "type": "quantitative"}, "y": {"field": "v", "type": "quantitative"}, "color": {"field": "p", "type": "nominal", "legend": null}}},
    {"data": {"name": "sf"}, "mark": {"type": "line", "color": "black", "strokeWidth": 2.4, "interpolate": "monotone"},
     "encoding": {"x": {"field": "d", "type": "quantitative"}, "y": {"field": "v", "type": "quantitative"}}}
   ]
  }
 ]
 },
  {
   "width": 152, "height": 150,
   "data": {"name": "bh"},
   "title": {"text": "(h)", "fontSize": 20, "fontWeight": "normal", "anchor": "start", "frame": "bounds", "offset": -4, "dx": -14},
   "mark": {"type": "bar", "width": {"band": 0.75}},
   "encoding": {
    "x": {"field": "d", "type": "ordinal", "axis": {"values": [-4,-2,0,2,4,6,10,17], "labelAngle": 0, "labelFontSize": 15, "labelColor": "#000", "title": "Days relative to tocilizumab", "titleFontSize": 15, "titleFontWeight": "bold", "titleColor": "#000", "domain": false, "ticks": false, "offset": 0, "labelPadding": 8, "titlePadding": 4}},
    "y": {"field": "n", "type": "quantitative", "stack": "zero", "scale": {"domain": [0, 25]}, "axis": {"values": [0,5,10,15,20,25], "tickCount": 40, "format": "d", "grid": true, "gridColor": "#bfbfbf", "domainColor": "#bfbfbf", "ticks": false, "labelFontSize": 15, "labelColor": "#000", "title": "No. of Patients", "titleFontSize": 18, "titleFontWeight": "bold", "titleColor": "#000", "offset": 0, "labelPadding": 11, "titlePadding": 6}},
    "color": {"field": "s", "type": "nominal", "scale": {"domain": ["a_death","b_vent","c_icu","d_noicu","e_disch"], "range": ["#000000","#c55a11","#f4b183","#ffe699","#a9d18e"]},
     "legend": {"title": null, "symbolType": "square", "symbolSize": 90, "symbolStrokeWidth": 0, "labelFontSize": 14, "labelColor": "#000", "labelLimit": 300, "rowPadding": 10, "offset": 18,
      "labelExpr": "datum.label == 'a_death' ? ['Death', ' '] : datum.label == 'b_vent' ? ['admitted (ICU', 'care+ventilation)'] : datum.label == 'c_icu' ? ['admitted (ICU', 'care)'] : datum.label == 'd_noicu' ? ['Admitted (no ICU', 'care)'] : 'Discharged'"}}
   }
  }
 ]
}
]
}
